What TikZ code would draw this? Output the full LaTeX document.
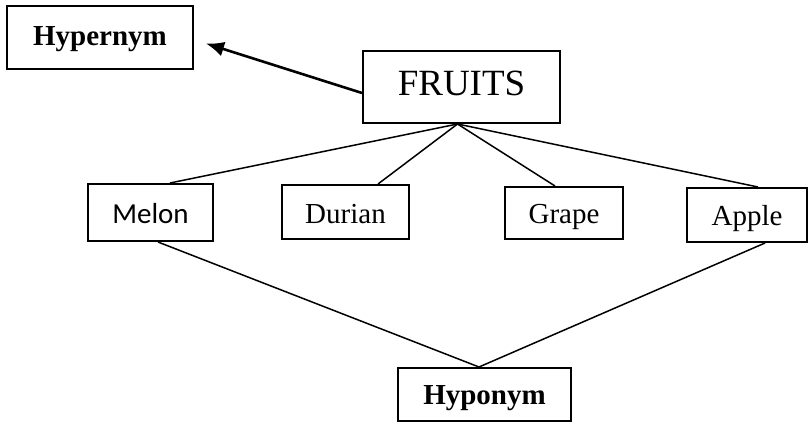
\documentclass[tikz,border=0pt]{standalone}
\usepackage{fontspec}
\setmainfont{Liberation Serif}
\newfontfamily\calib{Carlito}
\usetikzlibrary{arrows.meta}
\begin{document}
\begin{tikzpicture}[x=1pt,y=-1pt,
  box/.style={draw,line width=2pt,inner sep=0pt,minimum width=#1,text depth=0pt,font=\fontsize{29}{32}\selectfont},
  link/.style={line width=1.5pt},
  tiparrow/.style={line width=2.6pt,-{Latex[length=18pt,width=15pt]}}]
\useasboundingbox (0,0) rectangle (808,423);
\node[box=186pt,minimum height=63pt,text height=15pt,font=\fontsize{29}{32}\selectfont\bfseries] (hyper) at (100,37.5) {Hypernym};
\node[box=197pt,minimum height=72pt,text height=16pt,font=\fontsize{37}{40}\selectfont] (fruits) at (461.5,87) {FRUITS};
\node[box=125pt,minimum height=57pt,text height=21pt,font=\fontsize{29}{32}\calib] (melon) at (150.5,212.5) {Melon};
\node[box=127pt,minimum height=54pt,text height=22pt] (durian) at (345.5,212) {Durian};
\node[box=118pt,minimum height=52pt,text height=20pt] (grape) at (564,213) {Grape};
\node[box=120pt,minimum height=54pt,text height=20pt] (apple) at (747,215) {Apple};
\node[box=173pt,minimum height=53pt,text height=19pt,font=\fontsize{29}{32}\selectfont\bfseries] (hypo) at (484.5,394.5) {Hyponym};
\coordinate (top) at ([xshift=-4pt]fruits.south);
\draw[tiparrow] ([yshift=-6pt]fruits.west) -- ([xshift=12pt,yshift=-6pt]hyper.east);
\draw[link] (top) -- ([xshift=19.5pt]melon.north);
\draw[link] (top) -- ([xshift=32.5pt]durian.north);
\draw[link] (top) -- ([xshift=-9pt]grape.north);
\draw[link] (top) -- ([xshift=11pt]apple.north);
\coordinate (bot) at ([xshift=-5.5pt]hypo.north);
\draw[link] ([xshift=7.5pt]melon.south) -- (bot);
\draw[link] ([xshift=18pt]apple.south) -- (bot);
\end{tikzpicture}
\end{document}
